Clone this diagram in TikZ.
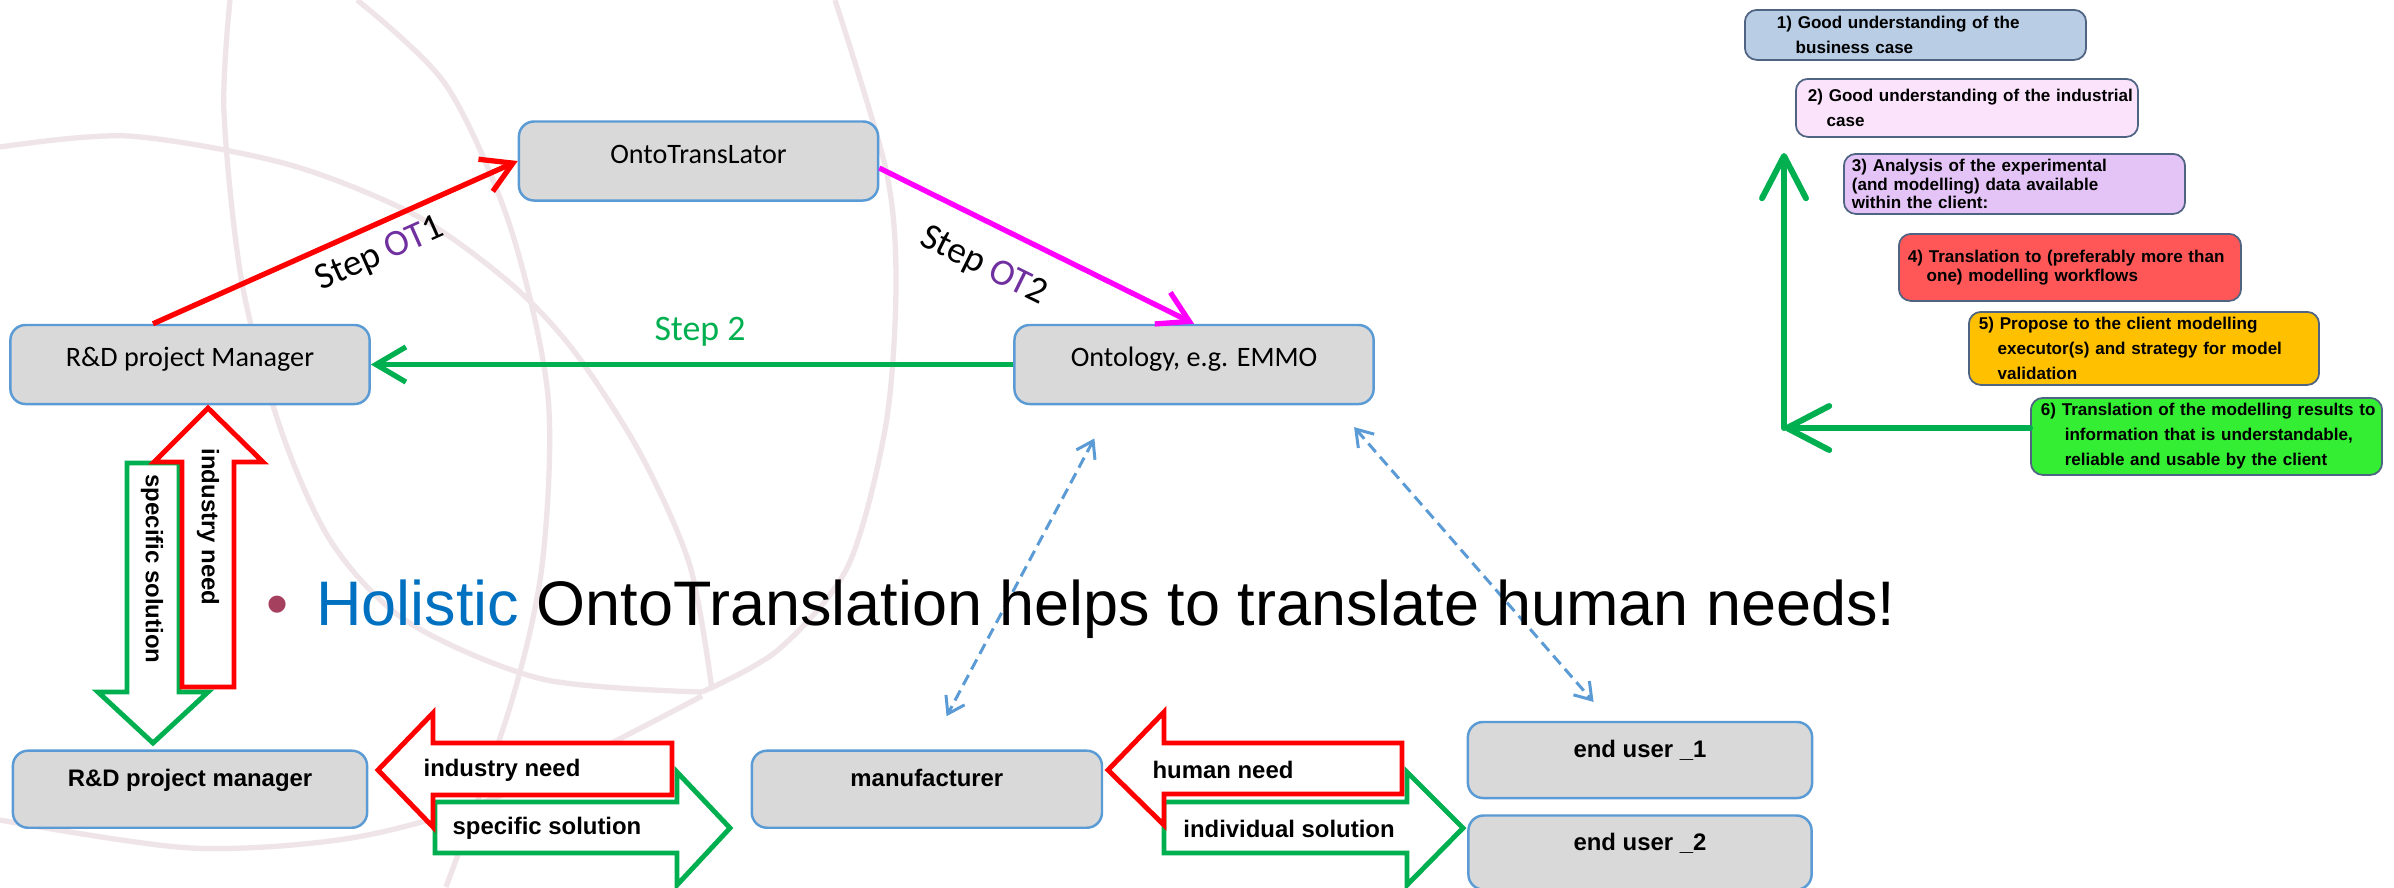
\documentclass[tikz,border=0pt]{standalone}
\usepackage{fontspec}
\newfontfamily\calibri{Carlito}
\newfontfamily\arial{Liberation Sans}
\usetikzlibrary{positioning,arrows.meta,calc}

\definecolor{boxgrey}{HTML}{D9D9D9}
\definecolor{boxblue}{HTML}{5B9BD5}
\definecolor{stepgreen}{HTML}{00B050}
\definecolor{otpurple}{HTML}{7030A0}
\definecolor{otmagenta}{HTML}{FF00FF}
\definecolor{holblue}{HTML}{0070C0}
\definecolor{bulletrose}{HTML}{A5405E}
\definecolor{logoline}{HTML}{EFE4E7}
\definecolor{stepframe}{HTML}{4F6382}
\definecolor{stepA}{HTML}{B9CDE5}
\definecolor{stepB}{HTML}{FBE4FB}
\definecolor{stepC}{HTML}{E4C4F6}
\definecolor{stepD}{HTML}{FF5757}
\definecolor{stepE}{HTML}{FFC000}
\definecolor{stepF}{HTML}{33EE33}

\begin{document}
\begin{tikzpicture}[x=0.01cm, y=-0.01cm,
    roundbox/.style={draw=boxblue, fill=boxgrey, line width=0.7pt, rounded corners=4.3pt, minimum width=3.59cm, minimum height=0.79cm, font=\calibri\fontsize{8}{9.6}\selectfont, text height=6pt, text depth=4.8pt},
    flatbox/.style={draw=boxblue, fill=boxgrey, line width=0.7pt, rounded corners=4.3pt, minimum height=0.77cm, font=\arial\bfseries\fontsize{6.8}{8}\selectfont, text height=5pt, text depth=6.4pt},
    stepbox/.style={draw=stepframe, line width=0.5pt, rounded corners=3.4pt, anchor=north west, align=left, inner xsep=0pt, inner ysep=1pt, font=\arial\bfseries\fontsize{4.85}{7.1}\selectfont},
    steplabel/.style={font=\calibri\fontsize{10.6}{12.7}\selectfont},
    blocklabel/.style={font=\arial\bfseries\fontsize{6.8}{8}\selectfont, inner sep=0pt},
    needarrow/.style={draw=red, fill=white, line width=1.4pt},
    solnarrow/.style={draw=stepgreen, fill=white, line width=1.4pt},
    logoarc/.style={draw=logoline, line width=1.5pt},
    flow/.style={line width=1.5pt, -{Straight Barb[length=8.5pt,width=10pt]}},
    bigflow/.style={draw=stepgreen, line width=1.7pt, line cap=round, -{Straight Barb[round,length=12pt,width=12.5pt]}},
    dashflow/.style={draw=boxblue, line width=0.85pt, dash pattern=on 3.2pt off 1.8pt, {Straight Barb[length=4.5pt,width=6pt]}-{Straight Barb[length=4.5pt,width=6pt]}}
    ]
        \fill[white] (0,0) rectangle (2394,887);
        \useasboundingbox (0,0) rectangle (2394,887);

        %Background logo
        \draw[logoarc] plot[smooth] coordinates {(230,0) (224,113) (242,283) (281,430) (332,543) (408,622) (542,679) (702,692)};
        \draw[logoarc] plot[smooth] coordinates {(835,0) (886,170) (896,283) (886,424) (848,566) (778,650) (702,692)};
        \draw[logoarc] plot[smooth] coordinates {(357,0) (446,85) (510,226) (548,396) (542,566) (510,707) (446,887)};
        \draw[logoarc] plot[smooth] coordinates {(0,147) (128,136) (287,164) (415,215) (510,283) (574,351) (640,453) (690,566) (712,690)};
        \draw[logoarc] plot[smooth] coordinates {(0,820) (191,848) (357,837) (510,792) (702,696)};

        %Nodes
        \node[roundbox] 
            (rdm)   at (190,364.5)          {R\&D project Manager};
        \node[roundbox] 
            (ont)   [right=6.42cm of rdm]   {Ontology, e.g. EMMO};
        \node[roundbox] 
            (ot)    at (698.5,161)          {OntoTransLator};
        \node[flatbox, minimum width=3.54cm] 
            (rdb)   [below=3.44cm of rdm]   {R\&D project manager};
        \node[flatbox, minimum width=3.50cm] 
            (manu)  [right=3.82cm of rdb]   {manufacturer};
        \node[flatbox, minimum width=3.44cm, minimum height=0.76cm] 
            (euA)   at (1640,760)           {end user \_1};
        \node[flatbox, minimum width=3.43cm, minimum height=0.74cm] 
            (euB)   [below=0.15cm of euA]   {end user \_2};

        %Step boxes
        \node[stepbox, fill=stepA, minimum width=3.41cm, minimum height=0.50cm, text width=2.77cm] 
            (s1) at (1744,9)   {1) Good understanding of the\\\hspace*{1.1em}business case};
        \node[stepbox, fill=stepB, minimum width=3.42cm, minimum height=0.58cm, text width=3.18cm] 
            (s2) at (1795,78)  {\mbox{2) Good understanding of the industrial}\\\hspace*{1.1em}case};
        \node[stepbox, fill=stepC, minimum width=3.41cm, minimum height=0.60cm, text width=3.25cm, font=\arial\bfseries\fontsize{4.85}{5.3}\selectfont] 
            (s3) at (1843,153) {3) Analysis of the experimental\\(and modelling) data available\\within the client:};
        \node[stepbox, fill=stepD, minimum width=3.42cm, minimum height=0.67cm, text width=3.24cm, font=\arial\bfseries\fontsize{4.85}{5.4}\selectfont] 
            (s4) at (1898,233) {\mbox{4) Translation to (preferably more than}\\\hspace*{1.1em}one) modelling workflows};
        \node[stepbox, fill=stepE, minimum width=3.50cm, minimum height=0.73cm, text width=3.30cm] 
            (s5) at (1968,311) {5) Propose to the client modelling\\\hspace*{1.1em}\mbox{executor(s) and strategy for model}\\\hspace*{1.1em}validation};
        \node[stepbox, fill=stepF, minimum width=3.51cm, minimum height=0.77cm, text width=3.31cm] 
            (s6) at (2030,397) {\mbox{6) Translation of the modelling results to}\\\hspace*{1.4em}\mbox{information that is understandable,}\\\hspace*{1.4em}reliable and usable by the client};
        \coordinate (lcorner) at (1784,428);
        \coordinate (ltop)    at (1784,153);

        %Block arrows
        \draw[solnarrow] (127,463) -- (179,463) -- (179,692) -- (208,692) -- (153,743) -- (98,692) -- (127,692) -- cycle;
        \draw[needarrow] (208,408) -- (263,462) -- (234,462) -- (234,687) -- (182,687) -- (182,462) -- (154,462) -- cycle;
        \draw[solnarrow] (435,802) -- (677,802) -- (677,772) -- (730,828) -- (677,885) -- (677,853) -- (435,853) -- cycle;
        \draw[needarrow] (378,770) -- (433,713) -- (433,743) -- (672,743) -- (672,795) -- (433,795) -- (433,827) -- cycle;
        \draw[solnarrow] (1164,802) -- (1407,802) -- (1407,772) -- (1463,828) -- (1407,885) -- (1407,853) -- (1164,853) -- cycle;
        \draw[needarrow] (1108,770) -- (1164,712) -- (1164,743) -- (1402,743) -- (1402,794) -- (1164,794) -- (1164,825) -- cycle;
        \node[blocklabel, rotate=-90] (needv) at (208,527)  {industry need};
        \node[blocklabel, rotate=-90] (solv)  at (152,569)  {specific solution};
        \node[blocklabel]             (needh) at (502,770)  {industry need};
        \node[blocklabel]             (solh)  at (547,828)  {specific solution};
        \node[blocklabel]             (needm) at (1223,770) {human need};
        \node[blocklabel]             (solm)  at (1289,829) {individual solution};

        %Lines
        \draw[flow, draw=red] 
            ($(rdm.north)+(-37,0)$) -- node[pos=0.59, sloped, below, steplabel] (otone) {Step \textcolor{otpurple}{OT}1} (ot.west);
        \draw[flow, draw=otmagenta] 
            ([yshift=-2pt]ot.east) -- node[pos=0.39, sloped, below=3.6pt, steplabel] (ottwo) {Step \textcolor{otpurple}{OT}2} (ont.north);
        \draw[flow, draw=stepgreen] 
            (ont.west) -- node[pos=0.4875, above=1pt, steplabel, text=stepgreen, font=\calibri\fontsize{10.2}{12}\selectfont] (steptwo) {Step 2} (rdm.east);
        \draw[dashflow, shorten <=0.376cm, shorten >=0.376cm] 
            ($(ont.south)+(-82,0)$) -- ($(manu.north)+(2,0)$);
        \draw[dashflow, shorten <=0.29cm, shorten >=0.25cm] 
            ($(ont.south)+(141,0)$) -- ($(euA.north)+(-30,0)$);
        \draw[bigflow] (s6.west |- lcorner) -- (lcorner);
        \draw[bigflow] (lcorner) -- (ltop);

        %Motto
        \node[anchor=base west, inner sep=0pt, font=\arial\fontsize{17.9}{21}\selectfont] 
            (motto) at (266,625) {\textcolor{bulletrose}{\textbullet}\hspace{0.44em}\textcolor{holblue}{Holistic} OntoTranslation helps to translate human needs!};
\end{tikzpicture}
\end{document}
